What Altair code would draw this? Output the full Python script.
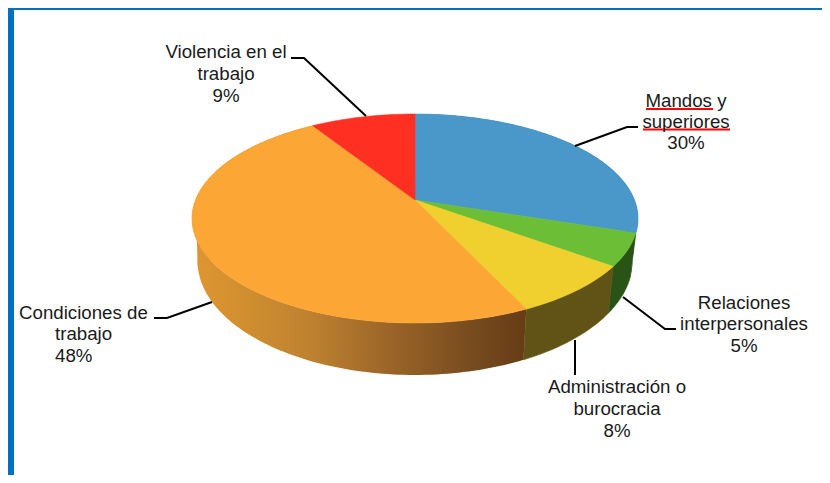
import math
import altair as alt

names = ["Mandos y superiores", "Relaciones interpersonales", "Administración o burocracia",
         "Condiciones de trabajo", "Violencia en el trabajo"]
shares = [30, 5, 8, 48, 9]
top_colors = ["#4A98C9", "#6CBE37", "#EFD02E", "#FCA636", "#FF3021"]

label_lines = [
    ("Violencia en el", 226, 52, "center"), ("trabajo", 226, 74, "center"), ("9%", 226, 96, "center"),
    ("Mandos y", 686, 101, "center"), ("superiores", 686, 122, "center"), ("30%", 686, 143, "center"),
    ("Relaciones", 744, 303, "center"), ("interpersonales", 744, 324, "center"), ("5%", 744, 346, "center"),
    ("Administración o", 617, 387, "center"), ("burocracia", 617, 409, "center"), ("8%", 617, 431, "center"),
    ("Condiciones de", 19, 313, "left"), ("trabajo", 55, 334, "left"), ("48%", 55, 356, "left"),
]

OX, OY = 8, 8
CX, CY = 415, 200
R, H, P = 219.5, 101.2, 0.177
W, HT = 814, 467


def rim(pct):
    a = pct / 100 * 2 * math.pi
    u, v = math.sin(a), math.cos(a)
    w = 1 + P * v
    return R * u / w, -H * v / w


def top_pt(pct):
    sx, sy = rim(pct)
    return [CX + sx - OX, CY + sy - OY]


def bot_pt(pct):
    sx, sy = rim(pct)
    return [CX + 0.975 * sx - OX, 375 + 1.09 * (sy - 123) - OY]


def steps(a, b):
    n = max(2, int((b - a) * 3))
    return [a + (b - a) * i / n for i in range(n + 1)]


def feature(kind, name, ring):
    return {"type": "Feature", "properties": {"name": name, "kind": kind},
            "geometry": {"type": kind, "coordinates": ring}}


tops, walls = [], {}
start = 0
for nm, s in zip(names, shares):
    pts = steps(start, start + s)
    ring = [[CX - OX, CY - OY]] + [top_pt(p) for p in pts] + [[CX - OX, CY - OY]]
    tops.append(feature("Polygon", nm, [ring]))
    wring = [top_pt(p) for p in pts] + [bot_pt(p) for p in reversed(pts)]
    wring.append(wring[0])
    walls[nm] = feature("Polygon", nm, [wring])
    start += s

proj = dict(type="identity", scale=1, translate=[0, 0])

color_scale = alt.Scale(domain=names, range=top_colors)

orange_wall = alt.Chart(alt.Data(values=[walls[names[3]]])).mark_geoshape(
    fill=alt.Gradient(
        gradient="linear", x1=0, x2=1, y1=0, y2=0,
        stops=[
            alt.GradientStop(offset=0, color="#DE9632"),
            alt.GradientStop(offset=0.1, color="#D6922F"),
            alt.GradientStop(offset=0.35, color="#BE8230"),
            alt.GradientStop(offset=0.6, color="#9A6428"),
            alt.GradientStop(offset=0.85, color="#754A1E"),
            alt.GradientStop(offset=1, color="#663C16"),
        ],
    ),
).project(**proj)

# silhouette of the wall on the far left, between the two rims' extremes
hull_ring = [top_pt(75), bot_pt(71.5), bot_pt(66), top_pt(66), top_pt(75)]
hull_wall = alt.Chart(alt.Data(values=[feature("Polygon", "h", [hull_ring])])).mark_geoshape(
    fill="#DB9431").project(**proj)

blue_wall = alt.Chart(alt.Data(values=[walls[names[0]]])).mark_geoshape(fill="#2B5A7A").project(**proj)
green_wall = alt.Chart(alt.Data(values=[walls[names[1]]])).mark_geoshape(
    fill="#2A5316", stroke="#2A5316", strokeWidth=0.6).project(**proj)
yellow_wall = alt.Chart(alt.Data(values=[walls[names[2]]])).mark_geoshape(
    fill="#615316", stroke="#615316", strokeWidth=0.6).project(**proj)

top_face = alt.Chart(alt.Data(values=tops)).mark_geoshape(strokeWidth=0.6).encode(
    fill=alt.Fill("properties.name:N", scale=color_scale, legend=None),
    stroke=alt.Stroke("properties.name:N", scale=color_scale, legend=None),
).project(**proj)


def shift(points):
    return [[x - OX, y - OY] for x, y in points]


leaders = [
    [(291, 58), (304, 58), (366, 116)],
    [(575, 146), (627, 127), (638, 127)],
    [(623, 297), (665, 329), (676, 329)],
    [(575, 340), (575, 375)],
    [(154, 318), (167, 318), (212, 302)],
]
leader_layer = alt.Chart(alt.Data(values=[feature("LineString", "l", shift(l)) for l in leaders])).mark_geoshape(
    filled=False, stroke="#000000", strokeWidth=2
).project(**proj)

underlines = [[(646, 109), (713, 109)], [(643, 129.5), (730, 129.5)]]
underline_layer = alt.Chart(alt.Data(values=[feature("LineString", "u", shift(l)) for l in underlines])).mark_geoshape(
    filled=False, stroke="#FF0000", strokeWidth=2
).project(**proj)

frame = [
    [(8, 8), (830, 8), (830, 10), (14, 10), (14, 483), (8, 483), (8, 8)],
]
frame_layer = alt.Chart(alt.Data(values=[feature("Polygon", "f", [shift(r)]) for r in frame])).mark_geoshape(
    fill="#0070C0"
).project(**proj)

text_layers = []
for align in ("center", "left"):
    rows = [{"t": t, "x": x - OX, "y": y - OY} for t, x, y, al in label_lines if al == align]
    text_layers.append(
        alt.Chart(alt.Data(values=rows)).mark_text(
            font="Liberation Sans", fontSize=18.7, color="#1A1A1A", align=align, baseline="middle"
        ).encode(
            text="t:N",
            x=alt.X("x:Q", scale=alt.Scale(domain=[0, W], range=[0, W]), axis=None),
            y=alt.Y("y:Q", scale=alt.Scale(domain=[0, HT], range=[0, HT]), axis=None),
        )
    )

chart = alt.layer(
    frame_layer, blue_wall, hull_wall, orange_wall, green_wall, yellow_wall, top_face,
    leader_layer, underline_layer, *text_layers
).properties(
    width=W, height=HT, padding=0, autosize=alt.AutoSizeParams(type="none"), background="#FFFFFF"
).configure_view(stroke=None)

chart.save("out.html", embed_options={"renderer": "svg", "actions": False})
